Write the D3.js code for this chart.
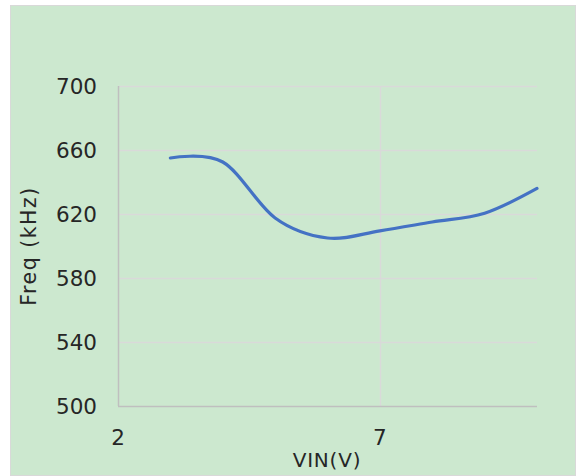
<!DOCTYPE html>
<html>
<head>
<meta charset="utf-8">
<script src="https://cdn.jsdelivr.net/npm/d3@7"></script>
<style>
  body { margin: 0; background: #fff; }
  text { font-family: "DejaVu Sans", sans-serif; fill: #262626; }
</style>
</head>
<body>
<div id="chart"></div>
<script>
// VIN (V) vs switching frequency (kHz)
const vin = [3, 4, 5, 6, 7, 8, 9, 10]
const freq = [655, 652.5, 617.5, 605, 609.5, 615, 620.5, 636]
const yTicks = [500, 540, 580, 620, 660, 700]
const xTicks = [2, 7]

const width = 577
const height = 476
const margin = { left: 118, right: 40, top: 86, bottom: 70 }

const svg = d3.select('#chart').append('svg')
    .attr('width', width)
    .attr('height', height)

// chart area
svg.append('rect')
    .attr('x', 10.5).attr('y', 5.5)
    .attr('width', 565).attr('height', 470)
    .attr('fill', '#cce8cf')
    .attr('stroke', '#d9d9d9')

const x = d3.scaleLinear().domain([2, 10]).range([margin.left, width - margin.right])
const y = d3.scaleLinear().domain([500, 700]).range([height - margin.bottom, margin.top])

// horizontal grid
svg.append('g')
    .selectAll('line')
    .data(yTicks.filter(d => d > 500))
    .join('line')
    .attr('x1', x(2)).attr('x2', x(10))
    .attr('y1', d => Math.round(y(d)) + 0.5)
    .attr('y2', d => Math.round(y(d)) + 0.5)
    .attr('stroke', '#d9d9d9')
    .attr('stroke-width', 1.5)

// vertical grid
svg.append('g')
    .selectAll('line')
    .data(xTicks.filter(d => d > 2))
    .join('line')
    .attr('x1', d => Math.round(x(d)) + 0.5)
    .attr('x2', d => Math.round(x(d)) + 0.5)
    .attr('y1', y(700)).attr('y2', y(500))
    .attr('stroke', '#d9d9d9')
    .attr('stroke-width', 1.5)

// axes lines
svg.append('line')
    .attr('x1', x(2) + 0.5).attr('x2', x(2) + 0.5)
    .attr('y1', y(700)).attr('y2', y(500))
    .attr('stroke', '#bfbfbf').attr('stroke-width', 1.5)
svg.append('line')
    .attr('x1', x(2)).attr('x2', x(10))
    .attr('y1', y(500) + 0.5).attr('y2', y(500) + 0.5)
    .attr('stroke', '#bfbfbf').attr('stroke-width', 1.5)

// tick labels
svg.append('g')
    .style('font-size', '21.5px')
    .selectAll('text')
    .data(yTicks)
    .join('text')
    .attr('x', 97)
    .attr('y', d => y(d))
    .attr('dy', '0.36em')
    .attr('text-anchor', 'end')
    .text(d => d)

svg.append('g')
    .style('font-size', '21.5px')
    .selectAll('text')
    .data(xTicks)
    .join('text')
    .attr('x', d => x(d))
    .attr('y', 445)
    .attr('text-anchor', 'middle')
    .text(d => d)

// axis titles
svg.append('text')
    .attr('x', 327)
    .attr('y', 467)
    .attr('text-anchor', 'middle')
    .style('font-size', '20px')
    .style('letter-spacing', '0.8px')
    .text('VIN(V)')

svg.append('text')
    .attr('transform', `translate(36, ${(y(700) + y(500)) / 2}) rotate(-90)`)
    .attr('text-anchor', 'middle')
    .style('font-size', '20.5px')
    .style('letter-spacing', '1.5px')
    .text('Freq (kHz)')

// smoothed line
const line = d3.line()
    .x((d, i) => x(vin[i]))
    .y(d => y(d))
    .curve(d3.curveCardinal.tension(0))

svg.append('path')
    .datum(freq)
    .attr('d', line)
    .attr('fill', 'none')
    .attr('stroke', '#4472c4')
    .attr('stroke-width', 3.2)
    .attr('stroke-linecap', 'round')
</script>
</body>
</html>
